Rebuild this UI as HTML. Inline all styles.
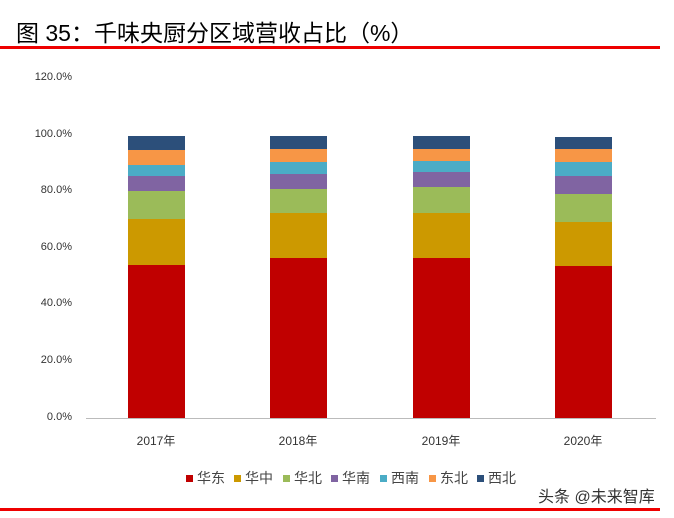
<!DOCTYPE html>
<html><head><meta charset="utf-8"><style>
body{margin:0;background:#fff;width:674px;height:518px;overflow:hidden;position:relative;font-family:"Liberation Sans","Noto Sans CJK SC",sans-serif}
.t{position:absolute;left:16px;top:14px;font-size:23px;color:#000;font-family:"Liberation Sans","Noto Sans CJK SC",sans-serif;white-space:nowrap}
.rl{position:absolute;left:0;width:660px;height:3px;background:#e00}
.yl{position:absolute;left:20px;width:52px;text-align:right;font-size:11px;color:#333}
.xl{position:absolute;width:80px;text-align:center;font-size:12px;color:#333;top:432px}
.lg{position:absolute;top:468px;font-size:14px;color:#444;white-space:nowrap}
.lg i{display:inline-block;width:7px;height:7px;margin-right:4px;vertical-align:1px}
</style></head><body>
<div class="t">图 35：千味央厨分区域营收占比（%）</div>
<div class="rl" style="top:46px"></div>
<div class="yl" style="top:71px">120.0%</div>
<div class="yl" style="top:128px">100.0%</div>
<div class="yl" style="top:184px">80.0%</div>
<div class="yl" style="top:241px">60.0%</div>
<div class="yl" style="top:297px">40.0%</div>
<div class="yl" style="top:354px">20.0%</div>
<div class="yl" style="top:411px">0.0%</div>
<div style="position:absolute;left:86px;top:418px;width:570px;height:1px;background:#bbb"></div>
<svg style="position:absolute;left:0;top:0" width="674" height="518">
<g>
<rect x="128" y="265" width="57" height="153" fill="#c00000"/>
<rect x="128" y="219" width="57" height="46" fill="#cc9900"/>
<rect x="128" y="191" width="57" height="28" fill="#9bbb59"/>
<rect x="128" y="176" width="57" height="15" fill="#8064a2"/>
<rect x="128" y="165" width="57" height="11" fill="#4bacc6"/>
<rect x="128" y="150" width="57" height="15" fill="#f79646"/>
<rect x="128" y="136" width="57" height="14" fill="#2c4f7a"/>
</g>
<g>
<rect x="270" y="258" width="57" height="160" fill="#c00000"/>
<rect x="270" y="213" width="57" height="45" fill="#cc9900"/>
<rect x="270" y="189" width="57" height="24" fill="#9bbb59"/>
<rect x="270" y="174" width="57" height="15" fill="#8064a2"/>
<rect x="270" y="162" width="57" height="12" fill="#4bacc6"/>
<rect x="270" y="149" width="57" height="13" fill="#f79646"/>
<rect x="270" y="136" width="57" height="13" fill="#2c4f7a"/>
</g>
<g>
<rect x="413" y="258" width="57" height="160" fill="#c00000"/>
<rect x="413" y="213" width="57" height="45" fill="#cc9900"/>
<rect x="413" y="187" width="57" height="26" fill="#9bbb59"/>
<rect x="413" y="172" width="57" height="15" fill="#8064a2"/>
<rect x="413" y="161" width="57" height="11" fill="#4bacc6"/>
<rect x="413" y="149" width="57" height="12" fill="#f79646"/>
<rect x="413" y="136" width="57" height="13" fill="#2c4f7a"/>
</g>
<g>
<rect x="555" y="266" width="57" height="152" fill="#c00000"/>
<rect x="555" y="222" width="57" height="44" fill="#cc9900"/>
<rect x="555" y="194" width="57" height="28" fill="#9bbb59"/>
<rect x="555" y="176" width="57" height="18" fill="#8064a2"/>
<rect x="555" y="162" width="57" height="14" fill="#4bacc6"/>
<rect x="555" y="149" width="57" height="13" fill="#f79646"/>
<rect x="555" y="137" width="57" height="12" fill="#2c4f7a"/>
</g>
</svg>
<div class="xl" style="left:116px">2017年</div>
<div class="xl" style="left:258px">2018年</div>
<div class="xl" style="left:401px">2019年</div>
<div class="xl" style="left:543px">2020年</div>
<div class="lg" style="left:186px"><i style="background:#c00000"></i>华东</div>
<div class="lg" style="left:234px"><i style="background:#cc9900"></i>华中</div>
<div class="lg" style="left:283px"><i style="background:#9bbb59"></i>华北</div>
<div class="lg" style="left:331px"><i style="background:#8064a2"></i>华南</div>
<div class="lg" style="left:380px"><i style="background:#4bacc6"></i>西南</div>
<div class="lg" style="left:429px"><i style="background:#f79646"></i>东北</div>
<div class="lg" style="left:477px"><i style="background:#2c4f7a"></i>西北</div>
<div style="position:absolute;left:538px;top:483px;font-size:16px;color:#333;white-space:nowrap">头条 @未来智库</div>
<div class="rl" style="top:508px"></div>
</body></html>
